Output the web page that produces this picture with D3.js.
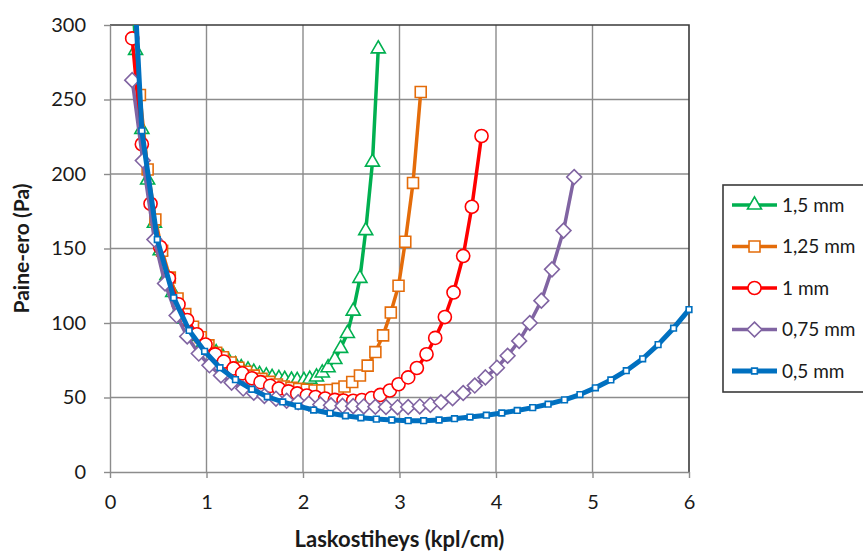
<!DOCTYPE html>
<html>
<head>
<meta charset="utf-8">
<script src="https://cdn.jsdelivr.net/npm/d3@7/dist/d3.min.js"></script>
<style>
  html, body { margin: 0; padding: 0; background: #fff; }
  svg { display: block; font-family: Lato, "Open Sans", sans-serif; }
</style>
</head>
<body>
<svg id="chart" width="863" height="551"></svg>
<script>
// ---- Data ----
const seriesNames = ["1,5 mm", "1,25 mm", "1 mm", "0,75 mm", "0,5 mm"];

const x15 = [0.20,0.265,0.33,0.39,0.46,0.52,0.59,0.65,0.72,0.78,0.85,0.91,0.97,1.04,1.10,1.17,1.23,1.30,1.36,1.43,1.49,1.55,1.62,1.68,1.75,1.81,1.88,1.94,2.01,2.07,2.14,2.20,2.26,2.33,2.39,2.46,2.52,2.59,2.65,2.72,2.78];
const y15 = [369,283,230,196,167,148.5,132,120.5,110,102.5,95.5,91,87,83,80,77,74.5,72,70,68.5,67,65.5,64.5,63.5,62.8,62.2,61.7,61.4,61.5,62.3,63.8,66.5,70,75.5,83,93,108,130,162,208,284];

const x125 = [0.23,0.31,0.39,0.47,0.54,0.62,0.70,0.78,0.86,0.94,1.02,1.10,1.17,1.25,1.33,1.41,1.49,1.57,1.65,1.73,1.80,1.88,1.96,2.04,2.12,2.20,2.28,2.36,2.43,2.51,2.59,2.67,2.75,2.83,2.91,2.99,3.06,3.14,3.22];
const y125 = [337,253,203,169.5,148.5,130.5,116.5,106,97.5,90.5,85,80,77,73.5,70,67.3,64.7,62.5,60.5,58.7,57.4,56.5,55.8,55.2,54.7,54.8,55,55.8,57.4,60.4,64.8,71.4,80.5,91.7,107,125,154.5,194,255];

const x1 = [0.23,0.33,0.42,0.52,0.61,0.71,0.80,0.90,0.99,1.09,1.18,1.28,1.37,1.47,1.56,1.66,1.75,1.85,1.94,2.04,2.13,2.23,2.33,2.42,2.52,2.61,2.71,2.80,2.90,2.99,3.09,3.18,3.28,3.37,3.47,3.56,3.66,3.75,3.85];
const y1 = [291,220,180,151,130,112.5,102,92.4,85.5,78.9,74.1,69.5,66.2,62.9,60.3,57.8,56,54.1,52.7,51.3,50.3,49.3,48.4,48,47.8,48.3,49.6,51.7,54.7,58.9,63.5,69.8,79,90,104,120.5,145,178,225.5];

const x075 = [0.23,0.34,0.46,0.57,0.69,0.80,0.92,1.03,1.15,1.26,1.38,1.49,1.60,1.72,1.83,1.95,2.06,2.18,2.29,2.41,2.52,2.63,2.75,2.86,2.98,3.09,3.21,3.32,3.43,3.55,3.66,3.78,3.89,4.01,4.12,4.24,4.35,4.47,4.58,4.70,4.81];
const y075 = [263,209,156,126.5,105,91,79.5,71.6,64.8,60,56,53.2,51,49.2,47.8,46.8,46,45.3,44.8,44.4,44.2,44,43.8,43.6,43.5,43.6,44,45,46.8,49.5,53,58,63.5,70,78,88,100,115,136,162,198];

const x05 = [0.17,0.33,0.49,0.66,0.82,0.98,1.14,1.30,1.47,1.63,1.79,1.95,2.11,2.28,2.44,2.60,2.76,2.92,3.09,3.25,3.41,3.57,3.73,3.90,4.06,4.22,4.38,4.54,4.71,4.87,5.03,5.19,5.35,5.52,5.68,5.84,6.00];
const y05 = [430,229,156,117,95,81,70,62,55.5,50.5,47,44.2,41.6,39.4,37.7,36.4,35.5,34.9,34.4,34.4,34.9,35.8,36.9,38.1,39.6,41.3,43.2,45.5,48.4,52,56.5,61.8,68,76,85.5,96.5,109];

const xTicks = [0,1,2,3,4,5,6];
const yTicks = [0,50,100,150,200,250,300];
const xTitle = "Laskostiheys (kpl/cm)";
const yTitle = "Paine-ero (Pa)";

// ---- Styles ----
const styles = [
  { color: "#00B050", marker: "triangle", lw: 3.5 },
  { color: "#E46C0A", marker: "square",   lw: 3.5 },
  { color: "#FF0000", marker: "circle",   lw: 3.5 },
  { color: "#8064A2", marker: "diamond",  lw: 3.5 },
  { color: "#0070C0", marker: "smallsquare", lw: 5 }
];

const seriesData = [
  [x15, y15], [x125, y125], [x1, y1], [x075, y075], [x05, y05]
].map(([xs, ys], i) => ({
  name: seriesNames[i],
  style: styles[i],
  points: xs.map((x, j) => ({ x, y: ys[j] }))
}));

// ---- Layout ----
const svg = d3.select("#chart");
const L = 110, R = 689, T = 25, B = 472;
const x = d3.scaleLinear().domain([0, 6]).range([L, R]);
const y = d3.scaleLinear().domain([0, 300]).range([B, T]);

const gridColor = "#8c8c8c";
const textColor = "#1a1a1a";

// gridlines
svg.append("g").selectAll("line.h").data(yTicks.filter(v => v > 0 && v < 300)).join("line")
  .attr("x1", L).attr("x2", R).attr("y1", d => y(d)).attr("y2", d => y(d))
  .attr("stroke", gridColor).attr("stroke-width", 1.4);
svg.append("g").selectAll("line.v").data(xTicks.filter(v => v > 0 && v < 6)).join("line")
  .attr("x1", d => x(d)).attr("x2", d => x(d)).attr("y1", T).attr("y2", B)
  .attr("stroke", gridColor).attr("stroke-width", 1.4);

// top & right border
svg.append("path")
  .attr("d", `M${L},${T}H${R}V${B}`)
  .attr("fill", "none").attr("stroke", "#3a3a3a").attr("stroke-width", 1.6);

// axes
const fmt = d3.format("d");
const yAxis = d3.axisLeft(y).tickValues(yTicks).tickFormat(fmt).tickSize(6).tickPadding(18).tickSizeOuter(0);
const gy = svg.append("g").attr("transform", `translate(${L},0)`).call(yAxis);
const xAxis = d3.axisBottom(x).tickValues(xTicks).tickFormat(fmt).tickSize(6).tickPadding(17).tickSizeOuter(0);
const gx = svg.append("g").attr("transform", `translate(0,${B})`).call(xAxis);
[gx, gy].forEach(g => {
  g.select(".domain").attr("stroke", gridColor).attr("stroke-width", 1.4);
  g.selectAll(".tick line").attr("stroke", gridColor).attr("stroke-width", 1.4);
  g.selectAll(".tick text").attr("fill", textColor).style("font-size", "20px")
    .style("font-family", "Lato, 'Open Sans', sans-serif");
});

// axis titles
svg.append("text").attr("x", (L + R) / 2).attr("y", 547).attr("text-anchor", "middle")
  .attr("fill", textColor).style("font-size", "22px").style("font-weight", "bold").text(xTitle);
svg.append("text").attr("transform", `translate(29,${(T + B) / 2}) rotate(-90)`)
  .attr("text-anchor", "middle").attr("fill", textColor)
  .style("font-size", "21px").style("font-weight", "bold").text(yTitle);

// clip
svg.append("defs").append("clipPath").attr("id", "plotclip")
  .append("rect").attr("x", L - 10).attr("y", T).attr("width", R - L + 20).attr("height", B - T + 10);

function markerPath(type) {
  switch (type) {
    case "triangle": return d3.symbol(d3.symbolTriangle, 85)();
    case "square": return d3.symbol(d3.symbolSquare, 120)();
    case "circle": return d3.symbol(d3.symbolCircle, 135)();
    case "diamond": { const h = 7.4; return `M0,${-h}L${h},0L0,${h}L${-h},0Z`; }
    case "smallsquare": return d3.symbol(d3.symbolSquare, 32)();
  }
}

const line = d3.line().x(d => x(d.x)).y(d => y(d.y));
const plot = svg.append("g").attr("clip-path", "url(#plotclip)");
seriesData.forEach(s => {
  const g = plot.append("g");
  g.append("path").datum(s.points).attr("d", line)
    .attr("fill", "none").attr("stroke", s.style.color).attr("stroke-width", s.style.lw)
    .attr("stroke-linejoin", "round");
  g.selectAll("path.m").data(s.points.filter(p => p.y <= 300)).join("path")
    .attr("class", "m")
    .attr("transform", p => `translate(${x(p.x)},${y(p.y)})`)
    .attr("d", markerPath(s.style.marker))
    .attr("fill", "#fff").attr("stroke", s.style.color).attr("stroke-width", 1.6);
});

// legend
const lg = svg.append("g");
lg.append("rect").attr("x", 723).attr("y", 185).attr("width", 160).attr("height", 207)
  .attr("fill", "#fff").attr("stroke", "#3a3a3a").attr("stroke-width", 1.6);
seriesData.forEach((s, i) => {
  const cy = 205 + i * 41.5;
  lg.append("line").attr("x1", 732).attr("x2", 777).attr("y1", cy).attr("y2", cy)
    .attr("stroke", s.style.color).attr("stroke-width", s.style.lw);
  lg.append("path").attr("transform", `translate(754.5,${cy})`).attr("d", markerPath(s.style.marker))
    .attr("fill", "#fff").attr("stroke", s.style.color).attr("stroke-width", 1.6);
  lg.append("text").attr("x", 782).attr("y", cy).attr("dy", "0.35em")
    .attr("fill", textColor).style("font-size", "19px").text(s.name);
});
</script>
</body>
</html>
